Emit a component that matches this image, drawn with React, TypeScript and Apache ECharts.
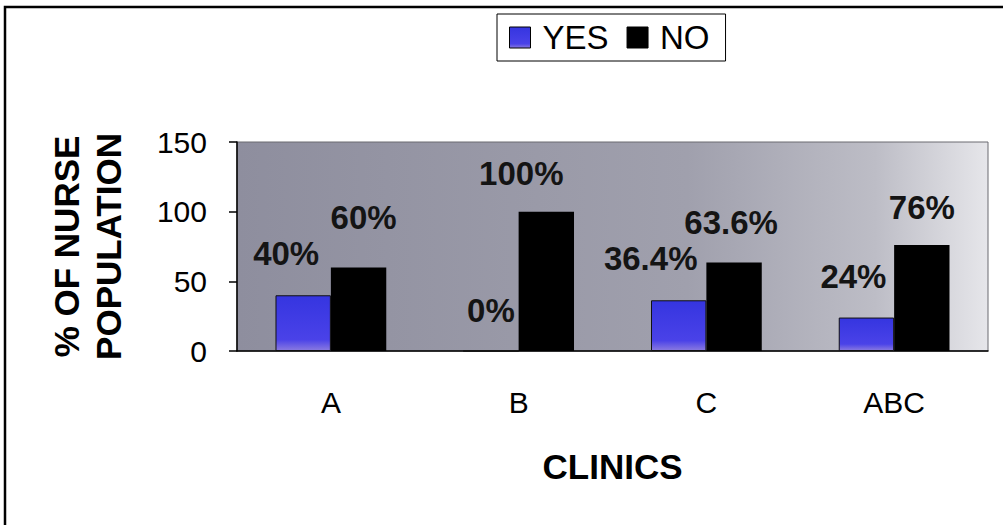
import React, { useEffect, useRef } from "react";
import * as echarts from "echarts";

const categories = ["A", "B", "C", "ABC"];
const yesValues = [40, 0, 36.4, 24];
const noValues = [60, 100, 63.6, 76];
const yesLabels = ["40%", "0%", "36.4%", "24%"];
const noLabels = ["60%", "100%", "63.6%", "76%"];
const yTicks = [0, 50, 100, 150];

// label nudges (style only), as in the scanned original
const yesOffsets = [[-17, -20], [0, -19], [-28, -20], [-13, -20]];
const noOffsets = [[5, -28], [-25, -17], [-3, -18], [0, -16]];

const FONT = "'Liberation Sans', Arial, sans-serif";

export default function App() {
  const ref = useRef<HTMLDivElement>(null);
  useEffect(() => {
    if (!ref.current) return;
    const chart = echarts.init(ref.current, undefined, { renderer: "svg" });
    const labelStyle = {
      show: true,
      position: "top",
      fontFamily: FONT,
      fontSize: 33,
      fontWeight: "bold",
      color: "#141414",
    };
    const mk = (vals: number[], labels: string[], offs: number[][]) =>
      vals.map((v, i) => ({
        value: v,
        label: { ...labelStyle, formatter: labels[i], offset: offs[i] },
      }));
    chart.setOption({
      animation: false,
      backgroundColor: "#ffffff",
      textStyle: { fontFamily: FONT },
      graphic: [
        {
          type: "rect",
          shape: { x: 5, y: 7, width: 1200, height: 700 },
          style: { fill: "none", stroke: "#000", lineWidth: 2.5 },
          silent: true,
          z: -10,
        },
      ],
      legend: {
        left: 497,
        top: 14,
        padding: [7, 16, 7, 12],
        borderColor: "#000",
        borderWidth: 1,
        backgroundColor: "#fff",
        itemWidth: 21,
        itemHeight: 21,
        itemGap: 18,
        icon: "rect",
        itemStyle: { borderColor: "#000", borderWidth: 1 },
        textStyle: {
          fontFamily: FONT,
          fontSize: 33,
          color: "#000",
          padding: [0, 0, 0, 7],
        },
        data: ["YES", "NO"],
      },
      grid: {
        left: 237,
        top: 142,
        right: 15,
        bottom: 174,
        show: true,
        borderColor: "#6a6a70",
        borderWidth: 1,
        backgroundColor: new echarts.graphic.LinearGradient(0, 0, 1, 0, [
          { offset: 0, color: "#8e8e9e" },
          { offset: 0.6, color: "#a0a0ad" },
          { offset: 0.85, color: "#bdbdc6" },
          { offset: 1, color: "#e6e6ea" },
        ]),
      },
      xAxis: {
        type: "category",
        data: categories,
        name: "CLINICS",
        nameLocation: "middle",
        nameGap: 98,
        nameTextStyle: {
          fontFamily: FONT,
          fontSize: 35,
          fontWeight: "bold",
          color: "#000",
        },
        axisLine: { lineStyle: { color: "#000", width: 1.5 } },
        axisTick: { length: 11, lineStyle: { color: "#000", width: 1.5 } },
        axisLabel: {
          fontFamily: FONT,
          fontSize: 30,
          color: "#000",
          margin: 36,
        },
      },
      yAxis: {
        type: "value",
        min: 0,
        max: 150,
        interval: 50,
        name: "% OF NURSE\nPOPULATION",
        nameLocation: "middle",
        nameGap: 108,
        nameRotate: 90,
        nameTextStyle: {
          fontFamily: FONT,
          fontSize: 35,
          fontWeight: "bold",
          color: "#000",
          lineHeight: 42,
          align: "center",
        },
        axisLine: { show: true, lineStyle: { color: "#000", width: 1.5 } },
        axisTick: { show: true, length: 8, lineStyle: { color: "#000", width: 1.5 } },
        splitLine: { show: false },
        axisLabel: {
          fontFamily: FONT,
          fontSize: 30,
          color: "#000",
          margin: 30,
          formatter: (v: number) => (yTicks.includes(v) ? String(v) : ""),
        },
      },
      series: [
        {
          name: "YES",
          type: "bar",
          barGap: "0%",
          barCategoryGap: "41%",
          itemStyle: {
            color: new echarts.graphic.LinearGradient(0, 0, 0, 1, [
              { offset: 0, color: "#3535e0" },
              { offset: 0.8, color: "#4a42e8" },
              { offset: 1, color: "#8a7ae0" },
            ]),
            borderColor: "#111",
            borderWidth: 1,
          },
          data: mk(yesValues, yesLabels, yesOffsets),
        },
        {
          name: "NO",
          type: "bar",
          itemStyle: { color: "#000" },
          data: mk(noValues, noLabels, noOffsets),
        },
      ],
    });
    return () => chart.dispose();
  }, []);
  return (
    <div
      ref={ref}
      style={{ position: "absolute", left: 0, top: 0, width: 1003, height: 525 }}
    />
  );
}
